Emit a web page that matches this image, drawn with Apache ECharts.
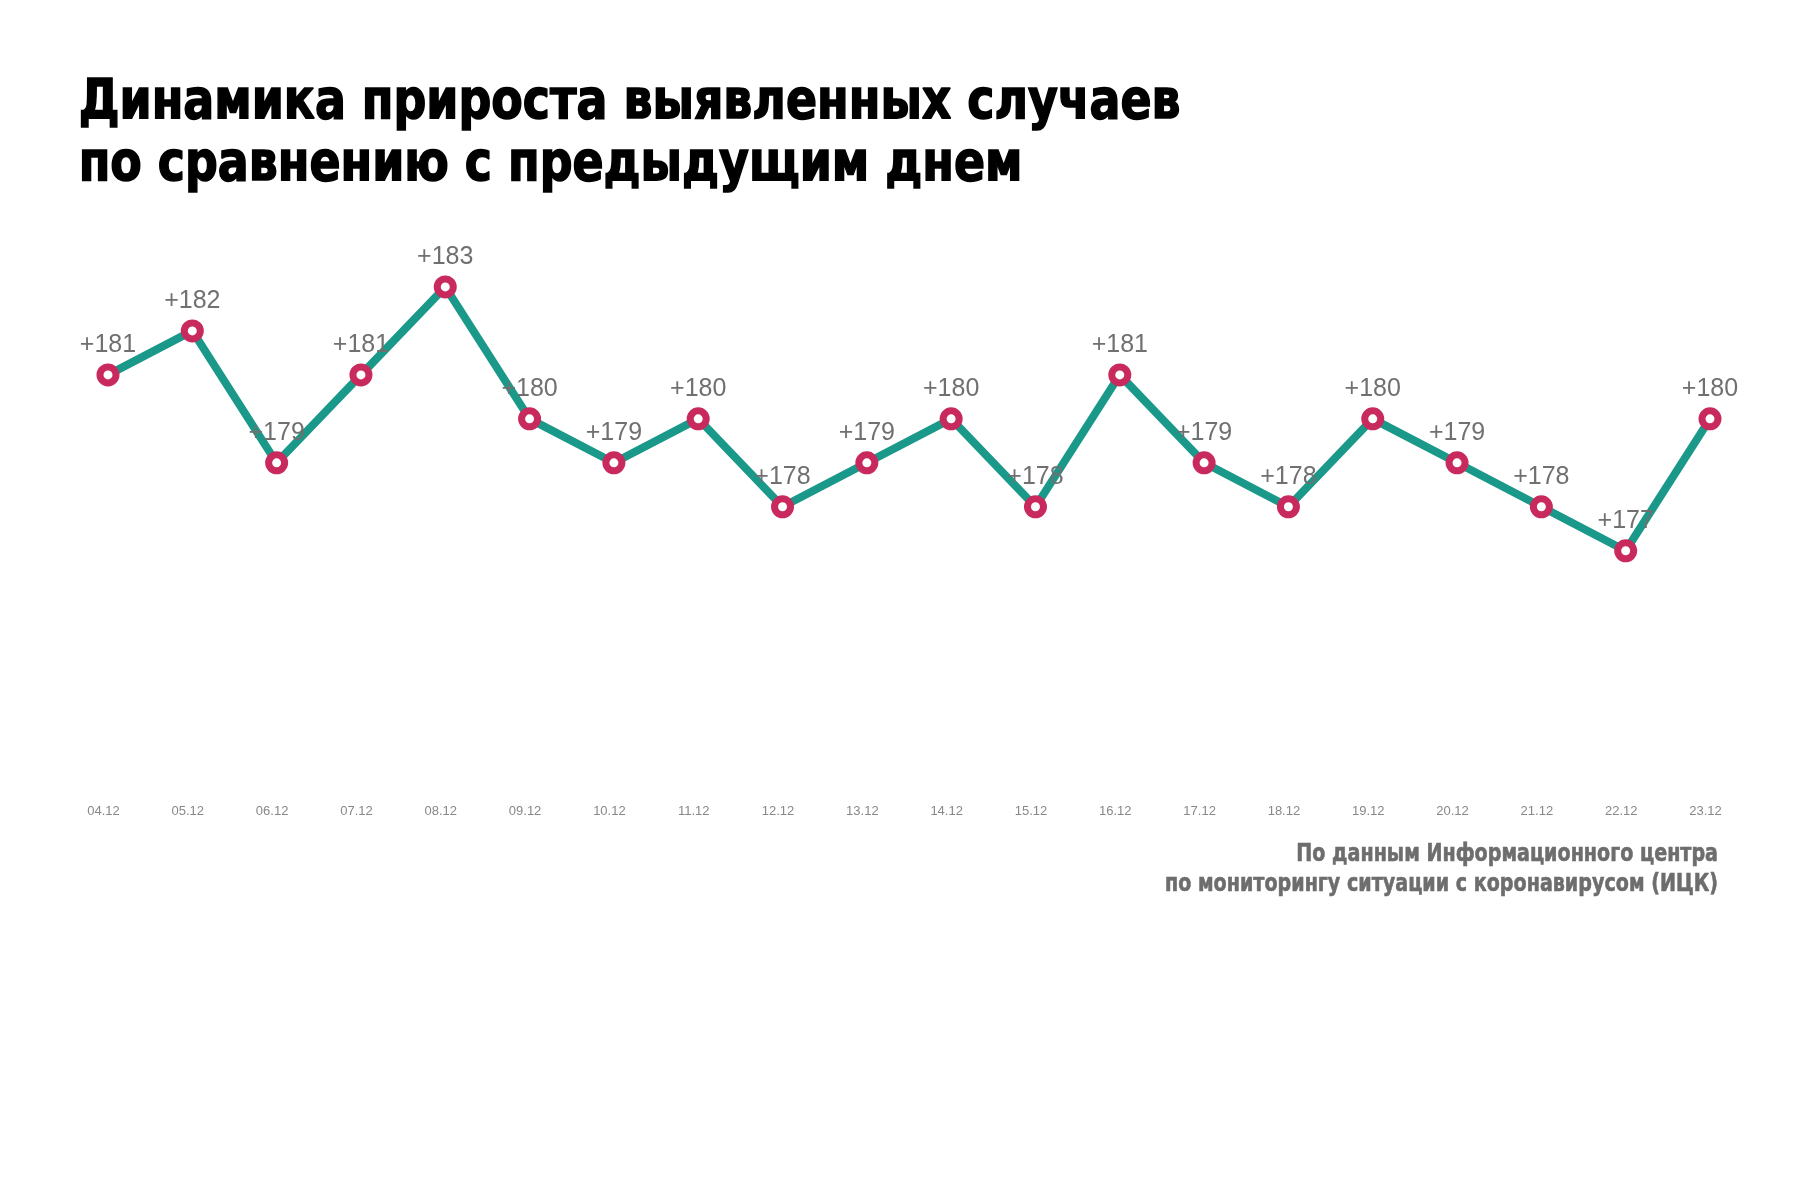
<!DOCTYPE html>
<html>
<head>
<meta charset="utf-8">
<script src="https://cdn.jsdelivr.net/npm/echarts@6/dist/echarts.min.js"></script>
<style>
  html, body { margin: 0; padding: 0; background: #fff; }
  #wrap { width: 1798px; height: 1198px; }
</style>
</head>
<body>
<div id="wrap"></div>
<script>
var dates = ['04.12', '05.12', '06.12', '07.12', '08.12', '09.12', '10.12', '11.12', '12.12', '13.12',
             '14.12', '15.12', '16.12', '17.12', '18.12', '19.12', '20.12', '21.12', '22.12', '23.12'];
var growth = [181, 182, 179, 181, 183, 180, 179, 180, 178, 179,
              180, 178, 181, 179, 178, 180, 179, 178, 177, 180];

var titleLines = ['Динамика прироста выявленных случаев', 'по сравнению с предыдущим днем'];
var sourceLines = ['По данным Информационного центра', 'по мониторингу ситуации с коронавирусом (ИЦК)'];

var narrow = "'DejaVu Sans Condensed', 'Liberation Sans Narrow', sans-serif";

var option = {
    backgroundColor: '#fff',
    animation: false,
    graphic: [
        {
            type: 'text', left: 78, top: 72, scaleX: 0.91,
            style: { text: titleLines.join('\n'), fontSize: 56, lineHeight: 62, fontWeight: 'bold',
                     fontFamily: narrow, fill: '#000', stroke: '#000', lineWidth: 1.5 }
        },
        {
            type: 'text', x: 1718, y: 854, scaleX: 0.85,
            style: { text: sourceLines[0], fontSize: 25, fontWeight: 'bold', fontFamily: narrow,
                     fill: '#6d6d6d', stroke: '#6d6d6d', lineWidth: 0.6,
                     align: 'right', verticalAlign: 'middle' }
        },
        {
            type: 'text', x: 1718, y: 884, scaleX: 0.85,
            style: { text: sourceLines[1], fontSize: 25, fontWeight: 'bold', fontFamily: narrow,
                     fill: '#6d6d6d', stroke: '#6d6d6d', lineWidth: 0.6,
                     align: 'right', verticalAlign: 'middle' }
        }
    ],
    grid: {
        left: 108,
        right: 88,
        top: 199,
        bottom: 401
    },
    xAxis: {
        type: 'category',
        data: dates,
        boundaryGap: false,
        axisLine: { show: false },
        axisTick: { show: false },
        axisLabel: {
            color: '#888',
            fontSize: 13,
            fontFamily: 'Liberation Sans',
            margin: 8,
            padding: [0, 9, 0, 0]
        }
    },
    yAxis: {
        type: 'value',
        min: 171.4,
        max: 185,
        show: false,
        splitLine: { show: false }
    },
    series: [
        {
            type: 'line',
            data: growth,
            symbol: 'circle',
            symbolSize: 16,
            lineStyle: { color: '#1a998a', width: 8 },
            itemStyle: { color: '#fff', borderColor: '#c92a5d', borderWidth: 7 },
            label: {
                show: true,
                position: 'top',
                distance: 6,
                color: '#707070',
                fontSize: 25,
                fontFamily: 'Liberation Sans',
                formatter: function (p) { return '+' + p.value; }
            }
        }
    ]
};

var myChart = echarts.init(document.getElementById('wrap'));
myChart.setOption(option);
</script>
</body>
</html>
